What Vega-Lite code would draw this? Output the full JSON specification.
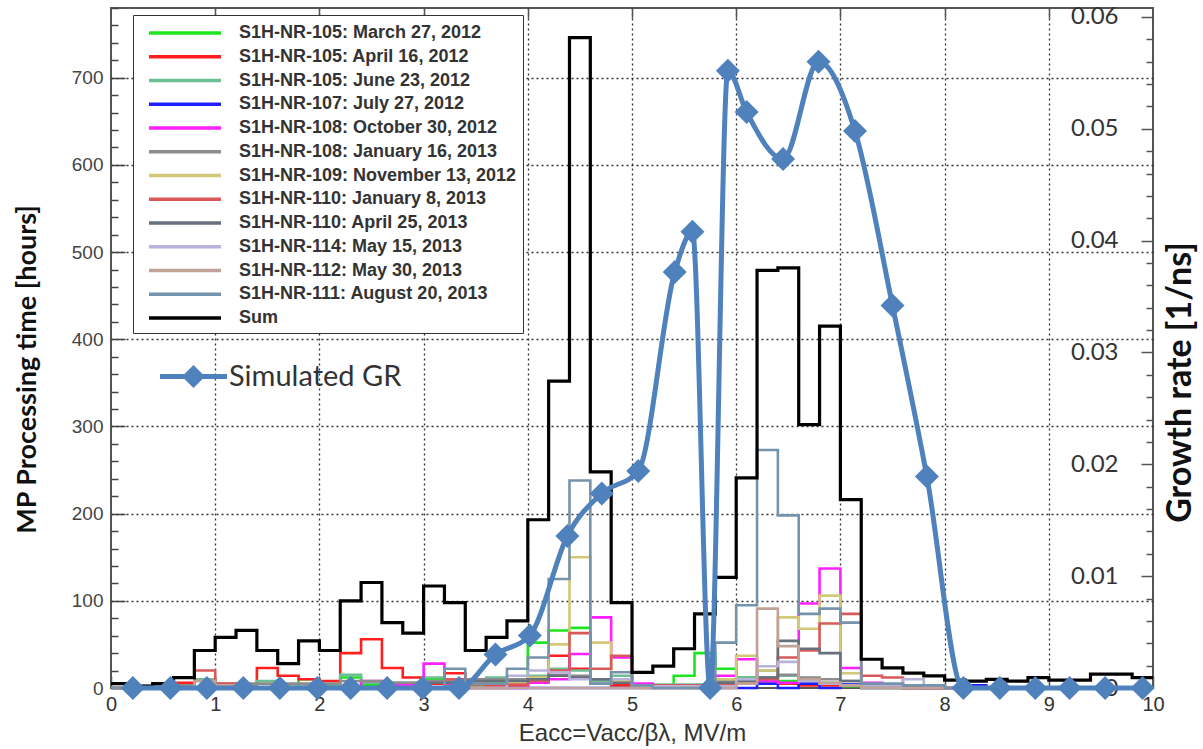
{
  "$schema": "https://vega.github.io/schema/vega-lite/v6.json",
  "width": 1042,
  "height": 680,
  "autosize": "none",
  "padding": {"left": 111, "top": 8, "right": 50, "bottom": 61},
  "background": "white",
  "config": {"view": {"stroke": "#555", "strokeWidth": 2}, "font": "Liberation Sans"},
  "layer": [
    {
      "data": {"values": [
        {"s":"S1H-NR-105: March 27, 2012","x":0,"v":0},{"s":"S1H-NR-105: March 27, 2012","x":1.8,"v":10},{"s":"S1H-NR-105: March 27, 2012","x":2.0,"v":3},{"s":"S1H-NR-105: March 27, 2012","x":2.2,"v":12},{"s":"S1H-NR-105: March 27, 2012","x":2.4,"v":3},{"s":"S1H-NR-105: March 27, 2012","x":3.0,"v":10},{"s":"S1H-NR-105: March 27, 2012","x":3.2,"v":3},{"s":"S1H-NR-105: March 27, 2012","x":3.6,"v":6},{"s":"S1H-NR-105: March 27, 2012","x":3.8,"v":8},{"s":"S1H-NR-105: March 27, 2012","x":4.0,"v":52},{"s":"S1H-NR-105: March 27, 2012","x":4.2,"v":66},{"s":"S1H-NR-105: March 27, 2012","x":4.4,"v":69},{"s":"S1H-NR-105: March 27, 2012","x":4.6,"v":10},{"s":"S1H-NR-105: March 27, 2012","x":4.8,"v":5},{"s":"S1H-NR-105: March 27, 2012","x":5.0,"v":3},{"s":"S1H-NR-105: March 27, 2012","x":5.4,"v":14},{"s":"S1H-NR-105: March 27, 2012","x":5.6,"v":40},{"s":"S1H-NR-105: March 27, 2012","x":5.8,"v":22},{"s":"S1H-NR-105: March 27, 2012","x":6.0,"v":12},{"s":"S1H-NR-105: March 27, 2012","x":6.2,"v":8},{"s":"S1H-NR-105: March 27, 2012","x":6.6,"v":4},{"s":"S1H-NR-105: March 27, 2012","x":7.0,"v":2},{"s":"S1H-NR-105: March 27, 2012","x":7.2,"v":0},{"s":"S1H-NR-105: March 27, 2012","x":10,"v":0},
        {"s":"S1H-NR-105: April 16, 2012","x":0,"v":0},{"s":"S1H-NR-105: April 16, 2012","x":0.6,"v":6},{"s":"S1H-NR-105: April 16, 2012","x":0.8,"v":10},{"s":"S1H-NR-105: April 16, 2012","x":1.0,"v":3},{"s":"S1H-NR-105: April 16, 2012","x":1.4,"v":23},{"s":"S1H-NR-105: April 16, 2012","x":1.6,"v":14},{"s":"S1H-NR-105: April 16, 2012","x":1.8,"v":10},{"s":"S1H-NR-105: April 16, 2012","x":2.0,"v":8},{"s":"S1H-NR-105: April 16, 2012","x":2.2,"v":40},{"s":"S1H-NR-105: April 16, 2012","x":2.4,"v":56},{"s":"S1H-NR-105: April 16, 2012","x":2.6,"v":23},{"s":"S1H-NR-105: April 16, 2012","x":2.8,"v":12},{"s":"S1H-NR-105: April 16, 2012","x":3.0,"v":5},{"s":"S1H-NR-105: April 16, 2012","x":3.2,"v":17},{"s":"S1H-NR-105: April 16, 2012","x":3.4,"v":5},{"s":"S1H-NR-105: April 16, 2012","x":3.6,"v":3},{"s":"S1H-NR-105: April 16, 2012","x":4.0,"v":10},{"s":"S1H-NR-105: April 16, 2012","x":4.2,"v":37},{"s":"S1H-NR-105: April 16, 2012","x":4.4,"v":22},{"s":"S1H-NR-105: April 16, 2012","x":4.6,"v":5},{"s":"S1H-NR-105: April 16, 2012","x":4.8,"v":3},{"s":"S1H-NR-105: April 16, 2012","x":5.0,"v":2},{"s":"S1H-NR-105: April 16, 2012","x":5.6,"v":3},{"s":"S1H-NR-105: April 16, 2012","x":5.8,"v":5},{"s":"S1H-NR-105: April 16, 2012","x":6.2,"v":8},{"s":"S1H-NR-105: April 16, 2012","x":6.4,"v":5},{"s":"S1H-NR-105: April 16, 2012","x":6.6,"v":3},{"s":"S1H-NR-105: April 16, 2012","x":7.6,"v":0},{"s":"S1H-NR-105: April 16, 2012","x":10,"v":0},
        {"s":"S1H-NR-105: June 23, 2012","x":0,"v":0},{"s":"S1H-NR-105: June 23, 2012","x":0.8,"v":10},{"s":"S1H-NR-105: June 23, 2012","x":1.0,"v":4},{"s":"S1H-NR-105: June 23, 2012","x":1.4,"v":8},{"s":"S1H-NR-105: June 23, 2012","x":1.6,"v":4},{"s":"S1H-NR-105: June 23, 2012","x":2.2,"v":15},{"s":"S1H-NR-105: June 23, 2012","x":2.4,"v":6},{"s":"S1H-NR-105: June 23, 2012","x":3.0,"v":12},{"s":"S1H-NR-105: June 23, 2012","x":3.2,"v":6},{"s":"S1H-NR-105: June 23, 2012","x":3.4,"v":8},{"s":"S1H-NR-105: June 23, 2012","x":3.6,"v":12},{"s":"S1H-NR-105: June 23, 2012","x":3.8,"v":10},{"s":"S1H-NR-105: June 23, 2012","x":4.0,"v":14},{"s":"S1H-NR-105: June 23, 2012","x":4.2,"v":22},{"s":"S1H-NR-105: June 23, 2012","x":4.4,"v":20},{"s":"S1H-NR-105: June 23, 2012","x":4.6,"v":8},{"s":"S1H-NR-105: June 23, 2012","x":4.8,"v":14},{"s":"S1H-NR-105: June 23, 2012","x":5.0,"v":4},{"s":"S1H-NR-105: June 23, 2012","x":5.8,"v":10},{"s":"S1H-NR-105: June 23, 2012","x":6.0,"v":12},{"s":"S1H-NR-105: June 23, 2012","x":6.2,"v":20},{"s":"S1H-NR-105: June 23, 2012","x":6.4,"v":14},{"s":"S1H-NR-105: June 23, 2012","x":6.6,"v":10},{"s":"S1H-NR-105: June 23, 2012","x":6.8,"v":6},{"s":"S1H-NR-105: June 23, 2012","x":7.0,"v":4},{"s":"S1H-NR-105: June 23, 2012","x":7.2,"v":2},{"s":"S1H-NR-105: June 23, 2012","x":8.0,"v":0},{"s":"S1H-NR-105: June 23, 2012","x":10,"v":0},
        {"s":"S1H-NR-107: July 27, 2012","x":0,"v":5},{"s":"S1H-NR-107: July 27, 2012","x":0.2,"v":0},{"s":"S1H-NR-107: July 27, 2012","x":6.2,"v":5},{"s":"S1H-NR-107: July 27, 2012","x":6.4,"v":0},{"s":"S1H-NR-107: July 27, 2012","x":6.6,"v":5},{"s":"S1H-NR-107: July 27, 2012","x":6.8,"v":0},{"s":"S1H-NR-107: July 27, 2012","x":7.0,"v":4},{"s":"S1H-NR-107: July 27, 2012","x":7.2,"v":0},{"s":"S1H-NR-107: July 27, 2012","x":8.2,"v":3},{"s":"S1H-NR-107: July 27, 2012","x":8.4,"v":0},{"s":"S1H-NR-107: July 27, 2012","x":10,"v":0},
        {"s":"S1H-NR-108: October 30, 2012","x":0,"v":0},{"s":"S1H-NR-108: October 30, 2012","x":2.4,"v":8},{"s":"S1H-NR-108: October 30, 2012","x":2.6,"v":3},{"s":"S1H-NR-108: October 30, 2012","x":3.0,"v":28},{"s":"S1H-NR-108: October 30, 2012","x":3.2,"v":5},{"s":"S1H-NR-108: October 30, 2012","x":3.4,"v":0},{"s":"S1H-NR-108: October 30, 2012","x":4.0,"v":6},{"s":"S1H-NR-108: October 30, 2012","x":4.2,"v":10},{"s":"S1H-NR-108: October 30, 2012","x":4.4,"v":39},{"s":"S1H-NR-108: October 30, 2012","x":4.6,"v":81},{"s":"S1H-NR-108: October 30, 2012","x":4.8,"v":35},{"s":"S1H-NR-108: October 30, 2012","x":5.0,"v":5},{"s":"S1H-NR-108: October 30, 2012","x":5.2,"v":2},{"s":"S1H-NR-108: October 30, 2012","x":5.8,"v":14},{"s":"S1H-NR-108: October 30, 2012","x":6.0,"v":33},{"s":"S1H-NR-108: October 30, 2012","x":6.2,"v":8},{"s":"S1H-NR-108: October 30, 2012","x":6.4,"v":6},{"s":"S1H-NR-108: October 30, 2012","x":6.6,"v":97},{"s":"S1H-NR-108: October 30, 2012","x":6.8,"v":137},{"s":"S1H-NR-108: October 30, 2012","x":7.0,"v":23},{"s":"S1H-NR-108: October 30, 2012","x":7.2,"v":6},{"s":"S1H-NR-108: October 30, 2012","x":7.4,"v":2},{"s":"S1H-NR-108: October 30, 2012","x":7.6,"v":0},{"s":"S1H-NR-108: October 30, 2012","x":10,"v":0},
        {"s":"S1H-NR-108: January 16, 2013","x":0,"v":0},{"s":"S1H-NR-108: January 16, 2013","x":0.2,"v":3},{"s":"S1H-NR-108: January 16, 2013","x":0.8,"v":8},{"s":"S1H-NR-108: January 16, 2013","x":1.0,"v":5},{"s":"S1H-NR-108: January 16, 2013","x":2.2,"v":8},{"s":"S1H-NR-108: January 16, 2013","x":2.6,"v":6},{"s":"S1H-NR-108: January 16, 2013","x":3.0,"v":8},{"s":"S1H-NR-108: January 16, 2013","x":3.4,"v":10},{"s":"S1H-NR-108: January 16, 2013","x":4.0,"v":12},{"s":"S1H-NR-108: January 16, 2013","x":4.2,"v":15},{"s":"S1H-NR-108: January 16, 2013","x":4.4,"v":14},{"s":"S1H-NR-108: January 16, 2013","x":4.6,"v":10},{"s":"S1H-NR-108: January 16, 2013","x":4.8,"v":8},{"s":"S1H-NR-108: January 16, 2013","x":5.0,"v":3},{"s":"S1H-NR-108: January 16, 2013","x":5.8,"v":8},{"s":"S1H-NR-108: January 16, 2013","x":6.0,"v":10},{"s":"S1H-NR-108: January 16, 2013","x":6.2,"v":12},{"s":"S1H-NR-108: January 16, 2013","x":6.4,"v":15},{"s":"S1H-NR-108: January 16, 2013","x":6.6,"v":12},{"s":"S1H-NR-108: January 16, 2013","x":6.8,"v":10},{"s":"S1H-NR-108: January 16, 2013","x":7.0,"v":8},{"s":"S1H-NR-108: January 16, 2013","x":7.2,"v":4},{"s":"S1H-NR-108: January 16, 2013","x":7.6,"v":2},{"s":"S1H-NR-108: January 16, 2013","x":8.0,"v":0},{"s":"S1H-NR-108: January 16, 2013","x":10,"v":0},
        {"s":"S1H-NR-109: November 13, 2012","x":0,"v":0},{"s":"S1H-NR-109: November 13, 2012","x":3.8,"v":5},{"s":"S1H-NR-109: November 13, 2012","x":4.0,"v":12},{"s":"S1H-NR-109: November 13, 2012","x":4.2,"v":50},{"s":"S1H-NR-109: November 13, 2012","x":4.4,"v":150},{"s":"S1H-NR-109: November 13, 2012","x":4.6,"v":52},{"s":"S1H-NR-109: November 13, 2012","x":4.8,"v":8},{"s":"S1H-NR-109: November 13, 2012","x":5.0,"v":0},{"s":"S1H-NR-109: November 13, 2012","x":5.8,"v":10},{"s":"S1H-NR-109: November 13, 2012","x":6.0,"v":37},{"s":"S1H-NR-109: November 13, 2012","x":6.2,"v":20},{"s":"S1H-NR-109: November 13, 2012","x":6.4,"v":81},{"s":"S1H-NR-109: November 13, 2012","x":6.6,"v":68},{"s":"S1H-NR-109: November 13, 2012","x":6.8,"v":106},{"s":"S1H-NR-109: November 13, 2012","x":7.0,"v":17},{"s":"S1H-NR-109: November 13, 2012","x":7.2,"v":3},{"s":"S1H-NR-109: November 13, 2012","x":7.4,"v":0},{"s":"S1H-NR-109: November 13, 2012","x":10,"v":0},
        {"s":"S1H-NR-110: January 8, 2013","x":0,"v":0},{"s":"S1H-NR-110: January 8, 2013","x":0.8,"v":20},{"s":"S1H-NR-110: January 8, 2013","x":1.0,"v":5},{"s":"S1H-NR-110: January 8, 2013","x":1.2,"v":0},{"s":"S1H-NR-110: January 8, 2013","x":3.2,"v":10},{"s":"S1H-NR-110: January 8, 2013","x":3.4,"v":4},{"s":"S1H-NR-110: January 8, 2013","x":4.0,"v":8},{"s":"S1H-NR-110: January 8, 2013","x":4.2,"v":20},{"s":"S1H-NR-110: January 8, 2013","x":4.4,"v":63},{"s":"S1H-NR-110: January 8, 2013","x":4.6,"v":22},{"s":"S1H-NR-110: January 8, 2013","x":4.8,"v":37},{"s":"S1H-NR-110: January 8, 2013","x":5.0,"v":3},{"s":"S1H-NR-110: January 8, 2013","x":5.8,"v":5},{"s":"S1H-NR-110: January 8, 2013","x":6.0,"v":8},{"s":"S1H-NR-110: January 8, 2013","x":6.2,"v":10},{"s":"S1H-NR-110: January 8, 2013","x":6.4,"v":35},{"s":"S1H-NR-110: January 8, 2013","x":6.6,"v":43},{"s":"S1H-NR-110: January 8, 2013","x":6.8,"v":74},{"s":"S1H-NR-110: January 8, 2013","x":7.0,"v":85},{"s":"S1H-NR-110: January 8, 2013","x":7.2,"v":14},{"s":"S1H-NR-110: January 8, 2013","x":7.4,"v":12},{"s":"S1H-NR-110: January 8, 2013","x":7.6,"v":3},{"s":"S1H-NR-110: January 8, 2013","x":7.8,"v":0},{"s":"S1H-NR-110: January 8, 2013","x":10,"v":0},
        {"s":"S1H-NR-110: April 25, 2013","x":0,"v":0},{"s":"S1H-NR-110: April 25, 2013","x":3.0,"v":6},{"s":"S1H-NR-110: April 25, 2013","x":3.4,"v":8},{"s":"S1H-NR-110: April 25, 2013","x":4.0,"v":10},{"s":"S1H-NR-110: April 25, 2013","x":4.2,"v":14},{"s":"S1H-NR-110: April 25, 2013","x":4.4,"v":12},{"s":"S1H-NR-110: April 25, 2013","x":4.6,"v":10},{"s":"S1H-NR-110: April 25, 2013","x":4.8,"v":6},{"s":"S1H-NR-110: April 25, 2013","x":5.0,"v":2},{"s":"S1H-NR-110: April 25, 2013","x":5.8,"v":6},{"s":"S1H-NR-110: April 25, 2013","x":6.0,"v":8},{"s":"S1H-NR-110: April 25, 2013","x":6.2,"v":12},{"s":"S1H-NR-110: April 25, 2013","x":6.4,"v":54},{"s":"S1H-NR-110: April 25, 2013","x":6.6,"v":45},{"s":"S1H-NR-110: April 25, 2013","x":6.8,"v":40},{"s":"S1H-NR-110: April 25, 2013","x":7.0,"v":8},{"s":"S1H-NR-110: April 25, 2013","x":7.2,"v":3},{"s":"S1H-NR-110: April 25, 2013","x":7.6,"v":0},{"s":"S1H-NR-110: April 25, 2013","x":10,"v":0},
        {"s":"S1H-NR-114: May 15, 2013","x":0,"v":0},{"s":"S1H-NR-114: May 15, 2013","x":3.8,"v":14},{"s":"S1H-NR-114: May 15, 2013","x":4.0,"v":20},{"s":"S1H-NR-114: May 15, 2013","x":4.2,"v":18},{"s":"S1H-NR-114: May 15, 2013","x":4.4,"v":10},{"s":"S1H-NR-114: May 15, 2013","x":4.6,"v":5},{"s":"S1H-NR-114: May 15, 2013","x":4.8,"v":10},{"s":"S1H-NR-114: May 15, 2013","x":5.0,"v":2},{"s":"S1H-NR-114: May 15, 2013","x":6.0,"v":10},{"s":"S1H-NR-114: May 15, 2013","x":6.2,"v":25},{"s":"S1H-NR-114: May 15, 2013","x":6.4,"v":30},{"s":"S1H-NR-114: May 15, 2013","x":6.6,"v":8},{"s":"S1H-NR-114: May 15, 2013","x":6.8,"v":5},{"s":"S1H-NR-114: May 15, 2013","x":7.0,"v":3},{"s":"S1H-NR-114: May 15, 2013","x":7.6,"v":10},{"s":"S1H-NR-114: May 15, 2013","x":7.8,"v":3},{"s":"S1H-NR-114: May 15, 2013","x":8.0,"v":0},{"s":"S1H-NR-114: May 15, 2013","x":10,"v":0},
        {"s":"S1H-NR-112: May 30, 2013","x":0,"v":0},{"s":"S1H-NR-112: May 30, 2013","x":0.8,"v":8},{"s":"S1H-NR-112: May 30, 2013","x":1.0,"v":3},{"s":"S1H-NR-112: May 30, 2013","x":1.2,"v":0},{"s":"S1H-NR-112: May 30, 2013","x":6.0,"v":5},{"s":"S1H-NR-112: May 30, 2013","x":6.2,"v":91},{"s":"S1H-NR-112: May 30, 2013","x":6.4,"v":48},{"s":"S1H-NR-112: May 30, 2013","x":6.6,"v":10},{"s":"S1H-NR-112: May 30, 2013","x":6.8,"v":6},{"s":"S1H-NR-112: May 30, 2013","x":7.0,"v":3},{"s":"S1H-NR-112: May 30, 2013","x":7.2,"v":0},{"s":"S1H-NR-112: May 30, 2013","x":10,"v":0},
        {"s":"S1H-NR-111: August 20, 2013","x":0,"v":0},{"s":"S1H-NR-111: August 20, 2013","x":3.2,"v":22},{"s":"S1H-NR-111: August 20, 2013","x":3.4,"v":5},{"s":"S1H-NR-111: August 20, 2013","x":3.8,"v":22},{"s":"S1H-NR-111: August 20, 2013","x":4.0,"v":35},{"s":"S1H-NR-111: August 20, 2013","x":4.2,"v":125},{"s":"S1H-NR-111: August 20, 2013","x":4.4,"v":238},{"s":"S1H-NR-111: August 20, 2013","x":4.6,"v":5},{"s":"S1H-NR-111: August 20, 2013","x":4.8,"v":18},{"s":"S1H-NR-111: August 20, 2013","x":5.0,"v":3},{"s":"S1H-NR-111: August 20, 2013","x":5.2,"v":0},{"s":"S1H-NR-111: August 20, 2013","x":5.8,"v":52},{"s":"S1H-NR-111: August 20, 2013","x":6.0,"v":95},{"s":"S1H-NR-111: August 20, 2013","x":6.2,"v":273},{"s":"S1H-NR-111: August 20, 2013","x":6.4,"v":198},{"s":"S1H-NR-111: August 20, 2013","x":6.6,"v":85},{"s":"S1H-NR-111: August 20, 2013","x":6.8,"v":91},{"s":"S1H-NR-111: August 20, 2013","x":7.0,"v":75},{"s":"S1H-NR-111: August 20, 2013","x":7.2,"v":5},{"s":"S1H-NR-111: August 20, 2013","x":7.6,"v":3},{"s":"S1H-NR-111: August 20, 2013","x":8.0,"v":0},{"s":"S1H-NR-111: August 20, 2013","x":10,"v":0},
        {"s":"Sum","x":0,"v":5},{"s":"Sum","x":0.2,"v":2},{"s":"Sum","x":0.4,"v":5},{"s":"Sum","x":0.6,"v":12},{"s":"Sum","x":0.8,"v":43},{"s":"Sum","x":1.0,"v":58},{"s":"Sum","x":1.2,"v":66},{"s":"Sum","x":1.4,"v":43},{"s":"Sum","x":1.6,"v":28},{"s":"Sum","x":1.8,"v":54},{"s":"Sum","x":2.0,"v":43},{"s":"Sum","x":2.2,"v":100},{"s":"Sum","x":2.4,"v":121},{"s":"Sum","x":2.6,"v":75},{"s":"Sum","x":2.8,"v":63},{"s":"Sum","x":3.0,"v":117},{"s":"Sum","x":3.2,"v":98},{"s":"Sum","x":3.4,"v":43},{"s":"Sum","x":3.6,"v":58},{"s":"Sum","x":3.8,"v":77},{"s":"Sum","x":4.0,"v":193},{"s":"Sum","x":4.2,"v":352},{"s":"Sum","x":4.4,"v":746},{"s":"Sum","x":4.6,"v":248},{"s":"Sum","x":4.8,"v":98},{"s":"Sum","x":5.0,"v":18},{"s":"Sum","x":5.2,"v":25},{"s":"Sum","x":5.4,"v":45},{"s":"Sum","x":5.6,"v":85},{"s":"Sum","x":5.8,"v":127},{"s":"Sum","x":6.0,"v":241},{"s":"Sum","x":6.2,"v":479},{"s":"Sum","x":6.4,"v":482},{"s":"Sum","x":6.6,"v":302},{"s":"Sum","x":6.8,"v":415},{"s":"Sum","x":7.0,"v":216},{"s":"Sum","x":7.2,"v":33},{"s":"Sum","x":7.4,"v":23},{"s":"Sum","x":7.6,"v":17},{"s":"Sum","x":7.8,"v":14},{"s":"Sum","x":8.0,"v":9},{"s":"Sum","x":8.2,"v":8},{"s":"Sum","x":8.4,"v":10},{"s":"Sum","x":8.6,"v":8},{"s":"Sum","x":8.8,"v":12},{"s":"Sum","x":9.0,"v":9},{"s":"Sum","x":9.2,"v":9},{"s":"Sum","x":9.4,"v":16},{"s":"Sum","x":9.6,"v":16},{"s":"Sum","x":9.8,"v":12},{"s":"Sum","x":10,"v":12}
      ]},
      "encoding": {
        "x": {"field": "x", "type": "quantitative",
          "scale": {"domain": [0, 10], "nice": false},
          "axis": {"orient": "bottom", "values": [0,1,2,3,4,5,6,7,8,9,10], "format": "d",
            "grid": true, "gridDash": [2, 3], "gridColor": "#333", "gridWidth": 1.3,
            "gridOpacity": {"condition": {"test": "datum.value > 0 && datum.value < 10", "value": 1}, "value": 0},
            "tickSize": -12, "tickColor": "#555", "tickWidth": 1.5, "domain": false,
            "labelFont": "Liberation Sans", "labelFontSize": 20, "labelColor": "#333", "labelPadding": 18, "labelFlush": false,
            "title": "Eacc=Vacc/βλ, MV/m", "titleFont": "Liberation Sans", "titleFontSize": 24, "titleFontWeight": "normal", "titleColor": "#333", "titlePadding": 7}},
        "y": {"field": "v", "type": "quantitative",
          "scale": {"domain": [0, 780], "nice": false},
          "axis": {"orient": "left",
            "values": [0,20,40,60,80,100,120,140,160,180,200,220,240,260,280,300,320,340,360,380,400,420,440,460,480,500,520,540,560,580,600,620,640,660,680,700,720,740,760,780],
            "labelExpr": "datum.value % 100 === 0 ? datum.label : ''",
            "grid": true, "gridDash": [2, 3], "gridColor": "#333", "gridWidth": 1.3,
            "gridOpacity": {"condition": {"test": "datum.value % 100 === 0 && datum.value > 0", "value": 1}, "value": 0},
            "tickSize": {"condition": {"test": "datum.value % 100 === 0", "value": -14}, "value": -7},
            "tickColor": "#444", "tickWidth": 1.5, "domain": false,
            "labelFont": "Liberation Sans", "labelFontSize": 19, "labelColor": "#444", "labelPadding": 22, "labelOverlap": false, "labelFlush": false,
            "title": "MP Processing time [hours]", "titleFont": "Lato", "titleFontSize": 27, "titleFontWeight": "bold", "titleColor": "#111", "titlePadding": 30, "titleY": 361}},
        "color": {"field": "s", "type": "nominal",
          "scale": {
            "domain": ["S1H-NR-105: March 27, 2012","S1H-NR-105: April 16, 2012","S1H-NR-105: June 23, 2012","S1H-NR-107: July 27, 2012","S1H-NR-108: October 30, 2012","S1H-NR-108: January 16, 2013","S1H-NR-109: November 13, 2012","S1H-NR-110: January 8, 2013","S1H-NR-110: April 25, 2013","S1H-NR-114: May 15, 2013","S1H-NR-112: May 30, 2013","S1H-NR-111: August 20, 2013","Sum"],
            "range": ["#1ee61e","#ff1f1f","#6cbf94","#1f1fff","#ff1fff","#8c8c8c","#d2c878","#d9595a","#66717d","#b8b2d8","#c0a298","#7593ab","#000000"]},
          "legend": {"orient": "none", "legendX": 22, "legendY": 7, "title": null, "direction": "vertical",
            "symbolType": "M-3.6,0L3.6,0", "symbolSize": 400, "symbolStrokeWidth": 3.5, "symbolOffset": 34, "labelOffset": 42,
            "labelFont": "Liberation Sans", "labelFontWeight": "bold", "labelFontSize": 18, "labelColor": "#333", "labelLimit": 400,
            "rowPadding": 2.75, "padding": 6, "strokeColor": "#333", "fillColor": "white"}}
      },
      "layer": [
        {"transform": [{"filter": "datum.s !== 'Sum'"}], "mark": {"type": "line", "interpolate": "step-after", "strokeWidth": 2.6}},
        {"transform": [{"filter": "datum.s === 'Sum'"}], "mark": {"type": "line", "interpolate": "step-after", "strokeWidth": 3.2}}
      ]
    },
    {
      "data": {"values": [
        {"x":0.21,"g":0},{"x":0.57,"g":0},{"x":0.92,"g":0},{"x":1.27,"g":0},{"x":1.62,"g":0},{"x":1.98,"g":0},{"x":2.30,"g":0},{"x":2.65,"g":0},{"x":2.99,"g":0},{"x":3.34,"g":0},{"x":3.69,"g":0.0030},{"x":4.02,"g":0.0047},{"x":4.38,"g":0.0136},{"x":4.71,"g":0.0174},{"x":5.06,"g":0.0194},{"x":5.41,"g":0.0372},{"x":5.58,"g":0.0408},{"x":5.75,"g":0},{"x":5.92,"g":0.0552},{"x":6.10,"g":0.0515},{"x":6.45,"g":0.0473},{"x":6.79,"g":0.0560},{"x":7.14,"g":0.0498},{"x":7.50,"g":0.0342},{"x":7.83,"g":0.0189},{"x":8.18,"g":0},{"x":8.53,"g":0},{"x":8.87,"g":0},{"x":9.20,"g":0},{"x":9.54,"g":0},{"x":9.90,"g":0}
      ]},
      "encoding": {
        "x": {"field": "x", "type": "quantitative", "scale": {"domain": [0, 10], "nice": false},
          "axis": {"orient": "top", "values": [1,2,3,4,5,6,7,8,9], "labels": false, "grid": false, "domain": false, "tickSize": -10, "tickColor": "#555", "tickWidth": 1.5, "title": null}},
        "y": {"field": "g", "type": "quantitative", "scale": {"domain": [0, 0.0608], "nice": false},
          "axis": {"orient": "right",
            "values": [0,0.002,0.004,0.006,0.008,0.01,0.012,0.014,0.016,0.018,0.02,0.022,0.024,0.026,0.028,0.03,0.032,0.034,0.036,0.038,0.04,0.042,0.044,0.046,0.048,0.05,0.052,0.054,0.056,0.058,0.06],
            "labelExpr": "datum.value < 1e-9 ? '0' : (abs(datum.value*100 - round(datum.value*100)) < 1e-6 ? format(datum.value, '.2f') : '')",
            "grid": false, "domain": false,
            "tickSize": {"condition": {"test": "abs(datum.value*100 - round(datum.value*100)) < 1e-6", "value": -12}, "value": -7},
            "tickColor": "#555", "tickWidth": 1.5,
            "labelAlign": "right", "labelPadding": -23, "labelFont": "Lato", "labelFontSize": 24, "labelColor": "#333", "labelOverlap": false, "labelFlush": false,
            "title": "Growth rate [1/ns]", "titleFont": "Lato", "titleFontSize": 34, "titleFontWeight": "bold", "titleColor": "#111", "titleAngle": 270, "titlePadding": 44, "titleY": 374}},
        "color": {"datum": "Simulated GR", "type": "nominal", "scale": {"range": ["#4f81bd"]},
          "legend": {"orient": "none", "legendX": 39, "legendY": 354, "title": null,
            "symbolType": "M-3.35,-0.25L3.35,-0.25L3.35,0.25L-3.35,0.25Z M0,-1.15L1.15,0L0,1.15L-1.15,0Z",
            "symbolSize": 400, "symbolOffset": 29, "labelOffset": 21, "symbolFillColor": "#4f81bd", "symbolStrokeColor": "#4f81bd", "symbolStrokeWidth": 0,
            "labelFont": "Lato", "labelFontSize": 29, "labelColor": "#333", "labelLimit": 400, "padding": 0}}
      },
      "layer": [
        {"mark": {"type": "line", "interpolate": "monotone", "strokeWidth": 5}},
        {"mark": {"type": "point", "shape": "diamond", "filled": true, "size": 576, "opacity": 1}}
      ]
    }
  ],
  "resolve": {"scale": {"x": "independent", "y": "independent", "color": "independent"}}
}
